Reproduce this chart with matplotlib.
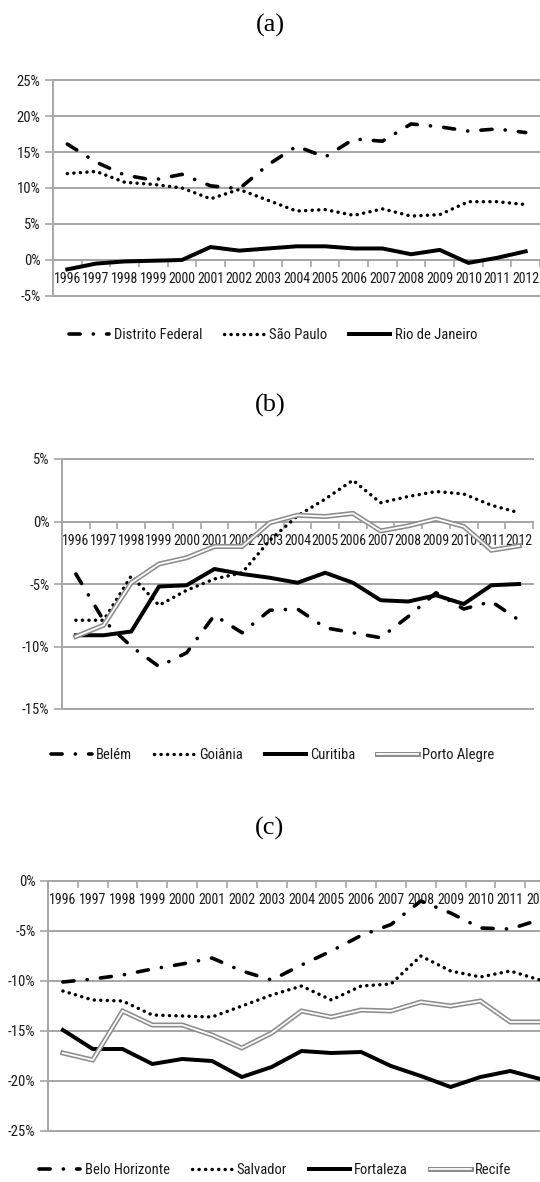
# Annual growth differentials by metropolitan region, 1996-2012
# three stacked line panels drawn in the Excel style

import numpy as np
from matplotlib import pyplot as plt

years = [str(y) for y in range(1996, 2013)]

# panel (a)
distrito_federal = [16.1, 13.6, 11.8, 11.1, 11.9, 10.3, 9.9, 13.2, 15.8, 14.3, 16.8, 16.5, 18.9, 18.5, 17.9, 18.2, 17.7]
sao_paulo = [12.0, 12.3, 10.8, 10.5, 10.0, 8.5, 9.8, 8.3, 6.8, 7.0, 6.2, 7.1, 6.1, 6.3, 8.1, 8.1, 7.7]
rio_de_janeiro = [-1.3, -0.5, -0.2, -0.1, 0.0, 1.8, 1.3, 1.6, 1.9, 1.9, 1.6, 1.6, 0.8, 1.4, -0.4, 0.3, 1.2]

# panel (b)
belem = [-4.2, -7.9, -10.0, -11.6, -10.5, -7.5, -8.9, -7.1, -7.0, -8.5, -8.9, -9.3, -7.6, -5.7, -7.0, -6.4, -7.9]
goiania = [-7.9, -7.9, -4.35, -6.7, -5.5, -4.6, -4.1, -1.5, 0.45, 1.8, 3.3, 1.5, 2.0, 2.4, 2.2, 1.3, 0.7]
curitiba = [-9.1, -9.1, -8.8, -5.2, -5.1, -3.8, -4.2, -4.5, -4.9, -4.1, -4.9, -6.3, -6.4, -5.9, -6.6, -5.1, -5.0]
porto_alegre = [-9.2, -8.3, -4.9, -3.4, -2.9, -2.0, -2.0, -0.1, 0.5, 0.4, 0.65, -0.75, -0.35, 0.2, -0.4, -2.3, -1.95]

# panel (c)
belo_horizonte = [-10.1, -9.8, -9.4, -8.8, -8.3, -7.7, -9.0, -9.9, -8.4, -7.0, -5.45, -4.35, -2.0, -3.2, -4.7, -4.8, -3.85]
salvador = [-11.0, -11.9, -12.0, -13.4, -13.5, -13.6, -12.5, -11.4, -10.5, -11.9, -10.5, -10.3, -7.5, -9.0, -9.6, -9.0, -9.9]
fortaleza = [-14.9, -16.8, -16.8, -18.3, -17.8, -18.0, -19.6, -18.6, -17.0, -17.2, -17.1, -18.5, -19.5, -20.6, -19.6, -19.0, -19.8]
recife = [-17.2, -17.9, -13.0, -14.4, -14.4, -15.4, -16.7, -15.2, -13.0, -13.6, -12.9, -13.0, -12.1, -12.5, -12.0, -14.1, -14.1]

plt.rcParams['lines.scale_dashes'] = False
plt.rcParams['font.family'] = ['Roboto Condensed', 'DejaVu Sans Condensed',
                               'Liberation Sans Narrow', 'Roboto', 'DejaVu Sans']

GRID = '#a6a6a6'
TXT = '#1a1a1a'
LW = 2.6

# line styles: long dash dot, round dot, solid, double gray
STYLES = {
    'dashdot': dict(color='black', lw=LW, linestyle=(0, (8.0, 9.5, 0.1, 9.5)),
                    dash_capstyle='round', solid_capstyle='round'),
    'dot': dict(color='black', lw=LW * 0.95, linestyle=(0, (0.1, 4.6)),
                dash_capstyle='round'),
    'solid': dict(color='black', lw=LW * 1.1, solid_joinstyle='round'),
}


def plot_series(ax, values, kind):
    x = np.arange(len(values))
    if kind == 'double':
        outer = ax.plot(x, values, color='#8c8c8c', lw=3.6, zorder=3,
                        solid_joinstyle='miter')[0]
        inner = ax.plot(x, values, color='white', lw=1.3, zorder=3.1,
                        solid_joinstyle='miter')[0]
        return (outer, inner)
    return ax.plot(x, values, zorder=3, **STYLES[kind])[0]


def draw_panel(fig, rect, title, title_y, ylim, series, names, kinds, legend_xy):
    ax = fig.add_axes(rect)
    ax.set_axisbelow(True)
    lo, hi = ylim
    ticks = np.arange(lo, hi + 1, 5)
    for t in ticks:
        ax.axhline(t, color=GRID, lw=1.4, zorder=0.5, clip_on=False)

    handles = []
    for vals, kind in zip(series, kinds):
        handles.append(plot_series(ax, vals, kind))

    ax.set_xlim(-0.5, len(years) - 0.5)
    ax.set_ylim(lo, hi)
    for side in ['top', 'right']:
        ax.spines[side].set_visible(False)
    ax.spines['left'].set_color(GRID)
    ax.spines['left'].set_linewidth(1.4)
    ax.spines['bottom'].set_position(('data', 0))
    ax.spines['bottom'].set_color(GRID)
    ax.spines['bottom'].set_linewidth(1.4)

    ax.set_yticks(ticks)
    ax.set_yticklabels([f'{int(t)}%' for t in ticks])
    ax.tick_params(axis='y', length=6, width=1.2, color=GRID, pad=3,
                   labelsize=10.5, labelcolor=TXT)

    ax.set_xticks(np.arange(len(years)))
    ax.set_xticklabels(years)
    ax.tick_params(axis='x', which='major', length=0, pad=9,
                   labelsize=10, labelcolor=TXT)
    ax.set_xticks(np.arange(-0.5, len(years), 1), minor=True)
    ax.tick_params(axis='x', which='minor', length=5, width=1.2, color=GRID,
                   direction='out')

    fig.text(0.5, title_y, title, ha='center', va='center', fontsize=19,
             family='Liberation Serif', color='black')

    ax.legend(handles, names, loc='center', bbox_to_anchor=legend_xy,
              bbox_transform=fig.transFigure, ncol=len(names),
              frameon=False, fontsize=10.5, handlelength=2.8,
              handletextpad=0.3, columnspacing=1.5, labelcolor=TXT)
    return ax


fig = plt.figure(figsize=(5.4, 11.82), dpi=100)
H = 1182.0


def rect(left, right, top, bottom):
    return [left / 540.0, 1 - bottom / H, (right - left) / 540.0, (bottom - top) / H]


draw_panel(fig, rect(53, 540, 80, 296), '(a)', 1 - 25 / H, (-5, 25),
           [distrito_federal, sao_paulo, rio_de_janeiro],
           ['Distrito Federal', 'São Paulo', 'Rio de Janeiro'],
           ['dashdot', 'dot', 'solid'], (0.505, 1 - 335 / H))

draw_panel(fig, rect(62, 533, 459, 709), '(b)', 1 - 405 / H, (-15, 5),
           [belem, goiania, curitiba, porto_alegre],
           ['Belém', 'Goiânia', 'Curitiba', 'Porto Alegre'],
           ['dashdot', 'dot', 'solid', 'double'], (0.505, 1 - 755 / H))

draw_panel(fig, rect(48, 555, 881, 1131), '(c)', 1 - 828 / H, (-25, 0),
           [belo_horizonte, salvador, fortaleza, recife],
           ['Belo Horizonte', 'Salvador', 'Fortaleza', 'Recife'],
           ['dashdot', 'dot', 'solid', 'double'], (0.51, 1 - 1170 / H))

plt.savefig('out.png', dpi=100)
